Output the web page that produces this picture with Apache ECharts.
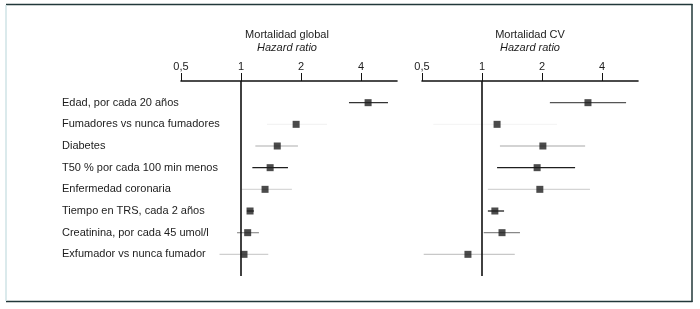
<!DOCTYPE html>
<html>
<head>
<meta charset="utf-8">
<script src="https://cdn.jsdelivr.net/npm/echarts@6/dist/echarts.min.js"></script>
<style>
  html, body { margin: 0; padding: 0; background: #fff; }
  #main { width: 700px; height: 309px; }
</style>
</head>
<body>
<div id="main"></div>
<script>
var rowLabels = ['Edad, por cada 20 años', 'Fumadores vs nunca fumadores', 'Diabetes',
  'T50 % por cada 100 min menos', 'Enfermedad coronaria', 'Tiempo en TRS, cada 2 años',
  'Creatinina, por cada 45 umol/l', 'Exfumador vs nunca fumador'];
var tickValues = [0.5, 1, 2, 4];

var globalHR   = [4.34, 1.89, 1.52, 1.40, 1.32, 1.11, 1.08, 1.035];
var globalLow  = [3.48, 1.35, 1.18, 1.14, 1.01, 1.07, 0.955, 0.78];
var globalHigh = [5.46, 2.70, 1.93, 1.72, 1.80, 1.16, 1.23, 1.37];

var cvHR   = [3.40, 1.19, 2.02, 1.89, 1.95, 1.16, 1.26, 0.85];
var cvLow  = [2.19, 0.57, 1.23, 1.19, 1.07, 1.07, 1.02, 0.51];
var cvHigh = [5.28, 2.38, 3.29, 2.93, 3.48, 1.29, 1.55, 1.46];

// colour of each confidence line (style, not data)
var globalCiColors = ['#333', '#f3f3f3', '#c8c8c8', '#1e1e1e', '#d8d8d8', '#1e1e1e', '#999', '#cfcfcf'];
var cvCiColors     = ['#555', '#f5f5f5', '#c4c4c4', '#1e1e1e', '#d4d4d4', '#1e1e1e', '#888', '#c8c8c8'];

var FONT = 'Liberation Sans, Arial, sans-serif';
var TXT = '#1c1c1c';

var mychart = echarts.init(document.getElementById('main'));

function xAxisFor(idx) {
  return {
    gridIndex: idx,
    type: 'log',
    logBase: 2,
    min: 0.5,
    max: 6.06,
    position: 'top',
    axisLine: { onZero: false, lineStyle: { color: '#111', width: 1.6 } },
    axisTick: { inside: false, length: 8, lineStyle: { color: '#111', width: 1 }, customValues: tickValues },
    axisLabel: {
      customValues: tickValues,
      margin: 9,
      fontFamily: FONT, fontSize: 11, color: TXT,
      formatter: function (v) { return String(v).replace('.', ','); }
    },
    splitLine: { show: false }
  };
}

function yAxisFor(idx, showLabels) {
  return {
    gridIndex: idx,
    type: 'value',
    inverse: true,
    min: -1,
    max: 8,
    interval: 1,
    axisLine: { show: false },
    axisTick: { show: false },
    splitLine: { show: false },
    axisLabel: {
      show: showLabels,
      align: 'left',
      margin: 119,
      fontFamily: FONT, fontSize: 11, color: TXT,
      formatter: function (v) { return rowLabels[v] || ''; }
    }
  };
}

function ciSeries(idx, low, high, colors) {
  var d = low.map(function (l, i) { return [l, high[i], i]; });
  return {
    type: 'custom',
    xAxisIndex: idx, yAxisIndex: idx,
    data: d,
    silent: true,
    renderItem: function (params, api) {
      var a = api.coord([api.value(0), api.value(2)]);
      var b = api.coord([api.value(1), api.value(2)]);
      return {
        type: 'line',
        shape: { x1: a[0], y1: a[1], x2: b[0], y2: b[1] },
        style: { stroke: colors[params.dataIndex], lineWidth: 1.3 }
      };
    },
    encode: { x: [0, 1], y: 2 }
  };
}

function pointSeries(idx, hr) {
  return {
    type: 'scatter',
    xAxisIndex: idx, yAxisIndex: idx,
    symbol: 'rect',
    symbolSize: 7,
    itemStyle: { color: '#1e1e1e' },
    data: hr.map(function (v, i) { return [v, i]; }),
    z: 5,
    markLine: {
      silent: true,
      symbol: 'none',
      label: { show: false },
      lineStyle: { color: '#111', width: 1.6, type: 'solid' },
      data: [[{ coord: [1, -1] }, { coord: [1, 8] }]]
    }
  };
}

option = {
  backgroundColor: '#fff',
  animation: false,
  title: [
    {
      text: 'Mortalidad global', subtext: 'Hazard ratio',
      left: 287, top: 29, textAlign: 'center', padding: 0, itemGap: 2,
      textStyle: { fontFamily: FONT, fontSize: 11, fontWeight: 'normal', color: TXT },
      subtextStyle: { fontFamily: FONT, fontSize: 11, fontStyle: 'italic', color: TXT }
    },
    {
      text: 'Mortalidad CV', subtext: 'Hazard ratio',
      left: 530, top: 29, textAlign: 'center', padding: 0, itemGap: 2,
      textStyle: { fontFamily: FONT, fontSize: 11, fontWeight: 'normal', color: TXT },
      subtextStyle: { fontFamily: FONT, fontSize: 11, fontStyle: 'italic', color: TXT }
    }
  ],
  grid: [
    { left: 181, top: 81, width: 216, height: 195 },
    { left: 422, top: 81, width: 216, height: 195 }
  ],
  xAxis: [xAxisFor(0), xAxisFor(1)],
  yAxis: [yAxisFor(0, true), yAxisFor(1, false)],
  series: [
    ciSeries(0, globalLow, globalHigh, globalCiColors),
    pointSeries(0, globalHR),
    ciSeries(1, cvLow, cvHigh, cvCiColors),
    pointSeries(1, cvHR)
  ],
  graphic: [
    { type: 'line', shape: { x1: 6, y1: 4.5, x2: 692.5, y2: 4.5 }, style: { stroke: '#22383a', lineWidth: 1.5 } },
    { type: 'line', shape: { x1: 692, y1: 4, x2: 692, y2: 302 }, style: { stroke: '#22383a', lineWidth: 1.5 } },
    { type: 'line', shape: { x1: 6, y1: 301.5, x2: 692.5, y2: 301.5 }, style: { stroke: '#22383a', lineWidth: 1.5 } },
    { type: 'line', shape: { x1: 6, y1: 5, x2: 6, y2: 301 }, style: { stroke: '#cfe3e6', lineWidth: 1.5 } }
  ]
};

mychart.setOption(option);
</script>
</body>
</html>
